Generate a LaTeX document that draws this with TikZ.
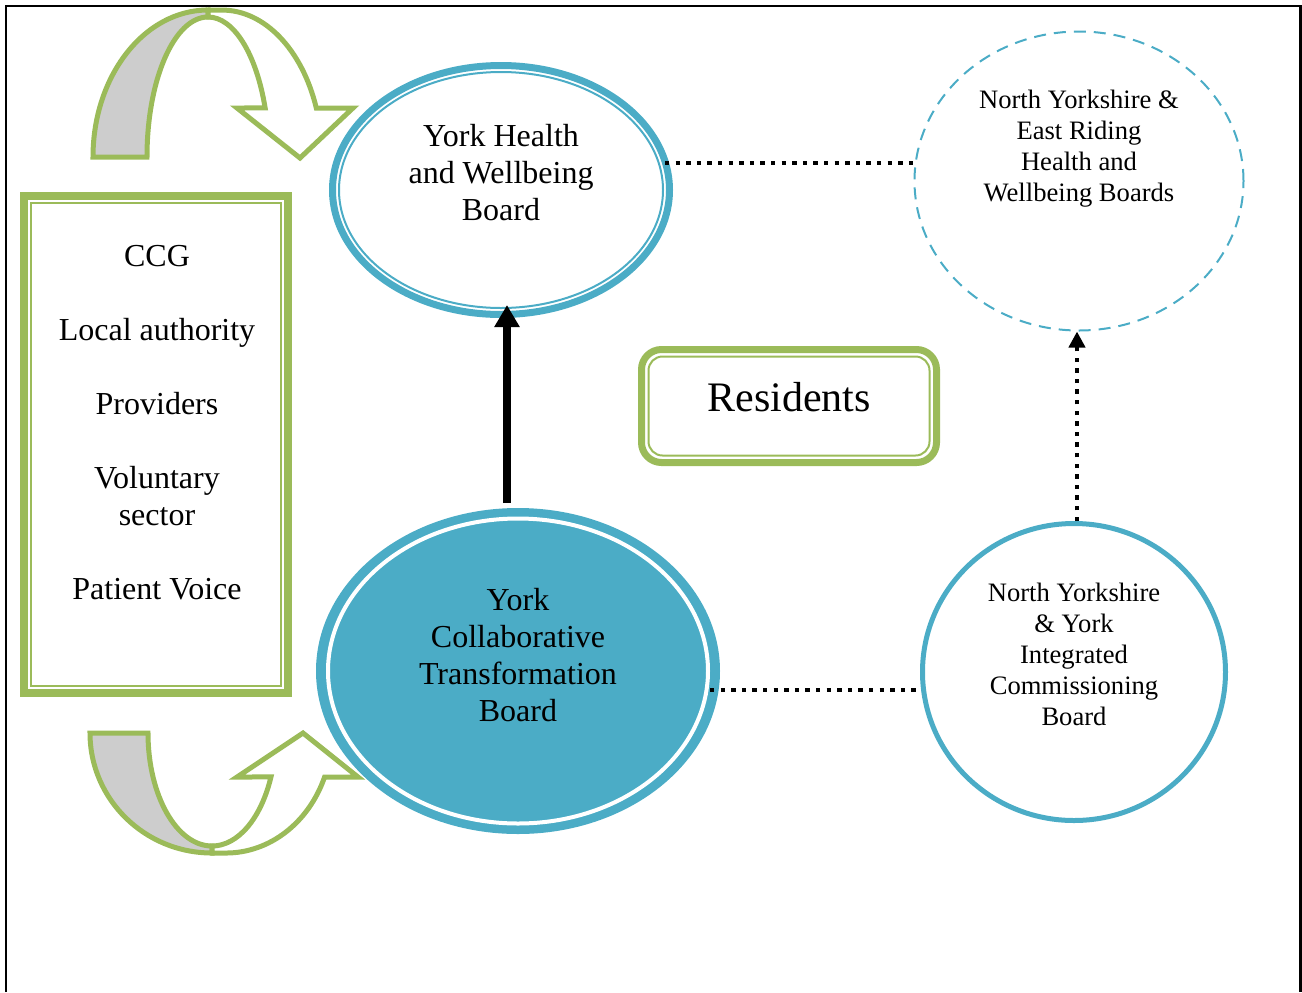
\documentclass[tikz,border=0pt]{standalone}
\usepackage{fontspec}
\setmainfont{Liberation Serif}
\usepackage{xcolor}
\usepackage{tikz}
\usetikzlibrary{shapes.geometric,arrows.meta}

\definecolor{boardblue}{HTML}{4BACC6}
\definecolor{leafgreen}{HTML}{9BBB59}
\definecolor{bandgray}{HTML}{CDCDCD}

\begin{document}
\begin{tikzpicture}[x=0.5pt,y=-0.5pt,
    board/.style={ellipse,draw=boardblue,inner sep=0pt},
    bigtext/.style={align=center,font=\fontsize{16}{18.5}\selectfont},
    smalltext/.style={align=center,font=\fontsize{13.3}{15.5}\selectfont},
    dotline/.style={line width=2.2pt,dash pattern=on 2.2pt off 3.1pt},
    curl/.style={draw=leafgreen,line width=2.5pt}]
    \useasboundingbox (0,0) rectangle (1302,992);
    \draw[line width=1.1pt] (6,992) -- (6,6) -- (1300.5,6) -- (1300.5,992);

    % curved arrows
    \draw[curl,fill=bandgray] (93,157) arc[start angle=180,end angle=270,x radius=115,y radius=147]
        -- (208,17) arc[start angle=270,end angle=180,x radius=61,y radius=140] -- cycle;
    \draw[curl,fill=white] (208,17) arc[start angle=270,end angle=339.5,x radius=61,y radius=140]
        -- (237,108) -- (300,158) -- (353,108) -- (316.3,108)
        arc[start angle=340.5,end angle=270,x radius=100,y radius=147] -- (208,10) -- cycle;
    \draw[curl,fill=bandgray] (90,733) arc[start angle=180,end angle=90,x radius=122,y radius=120]
        -- (212,846) arc[start angle=90,end angle=180,x radius=64,y radius=113] -- cycle;
    \draw[curl,fill=white] (212,846) arc[start angle=90,end angle=22.9,x radius=64,y radius=113]
        -- (237,777) -- (303,733) -- (358,777) -- (324.6,777)
        arc[start angle=21.5,end angle=90,x radius=106,y radius=120] -- (212,853) -- cycle;

    % partners
    \node[draw=leafgreen,line width=4pt,minimum width=132pt,minimum height=248.5pt] (partners) at (156,444.5) {};
    \draw[leafgreen,line width=1pt] ([shift={(-125,-241.5)}]partners.center) rectangle ([shift={(125,241.5)}]partners.center);
    \node[bigtext] (partnerlist) at (157,423) {CCG\\[18.5pt] Local authority\\[18.5pt] Providers\\[18.5pt] Voluntary\\ sector\\[18.5pt] Patient Voice};

    % boards
    \node[board,line width=3.5pt,minimum width=168.5pt,minimum height=124.5pt] (hwb) at (501,190) {};
    \draw[boardblue,line width=1pt] (hwb.center) ellipse [x radius=81pt,y radius=59pt];
    \node[bigtext] (hwbtext) at ([yshift=8.6pt]hwb.center) {York Health\\ and Wellbeing\\ Board};

    \node[board,line width=4pt,fill=boardblue,minimum width=198pt,minimum height=159pt] (ctb) at (518,671) {};
    \draw[white,line width=2pt] (ctb.center) ellipse [x radius=95pt,y radius=76.25pt];
    \node[bigtext] (ctbtext) at ([yshift=7.9pt]ctb.center) {York\\ Collaborative\\ Transformation\\ Board};

    \node[board,line width=1pt,dash pattern=on 6pt off 4pt,minimum width=164.5pt,minimum height=149.5pt] (nyer) at (1079,181) {};
    \node[smalltext] (nyertext) at ([yshift=16.2pt]nyer.center) {North Yorkshire \&\\ East Riding\\ Health and\\ Wellbeing Boards};

    \node[board,line width=2.5pt,minimum width=151.5pt,minimum height=148.5pt] (nyicb) at (1074,672) {};
    \node[smalltext] (nyicbtext) at ([yshift=8.9pt]nyicb.center) {North Yorkshire\\ \& York\\ Integrated\\ Commissioning\\ Board};

    % residents
    \node[draw=leafgreen,line width=3.5pt,rounded corners=10pt,minimum width=147.5pt,minimum height=56.5pt] (res) at (789,406) {};
    \draw[leafgreen,line width=1pt,rounded corners=7pt] ([shift={(-140.5,-49.5)}]res.center) rectangle ([shift={(140.5,49.5)}]res.center);
    \node[font=\fontsize{21}{25}\selectfont] (restext) at ([yshift=4.2pt]res.center) {Residents};

    % links
    \draw[dotline] ([shift={(-4pt,13.5pt)}]hwb.east) -- ([yshift=13.5pt]hwb.east -| nyer.west);
    \draw[dotline] ([shift={(-5pt,-9.5pt)}]ctb.east) -- ([yshift=-9.5pt]ctb.east -| nyicb.west);
    \draw[line width=3.7pt,-{Triangle[length=11pt,width=12pt]},shorten <=2.5pt,shorten >=-6.5pt]
        ([xshift=-5.5pt]ctb.north) -- ([xshift=-5.5pt]ctb.north |- hwb.south);
    \draw[dotline,-{Triangle[length=8pt,width=8pt]}] ([xshift=1.5pt]nyicb.north) -- ([xshift=1.5pt]nyicb.north |- nyer.south);
\end{tikzpicture}
\end{document}
